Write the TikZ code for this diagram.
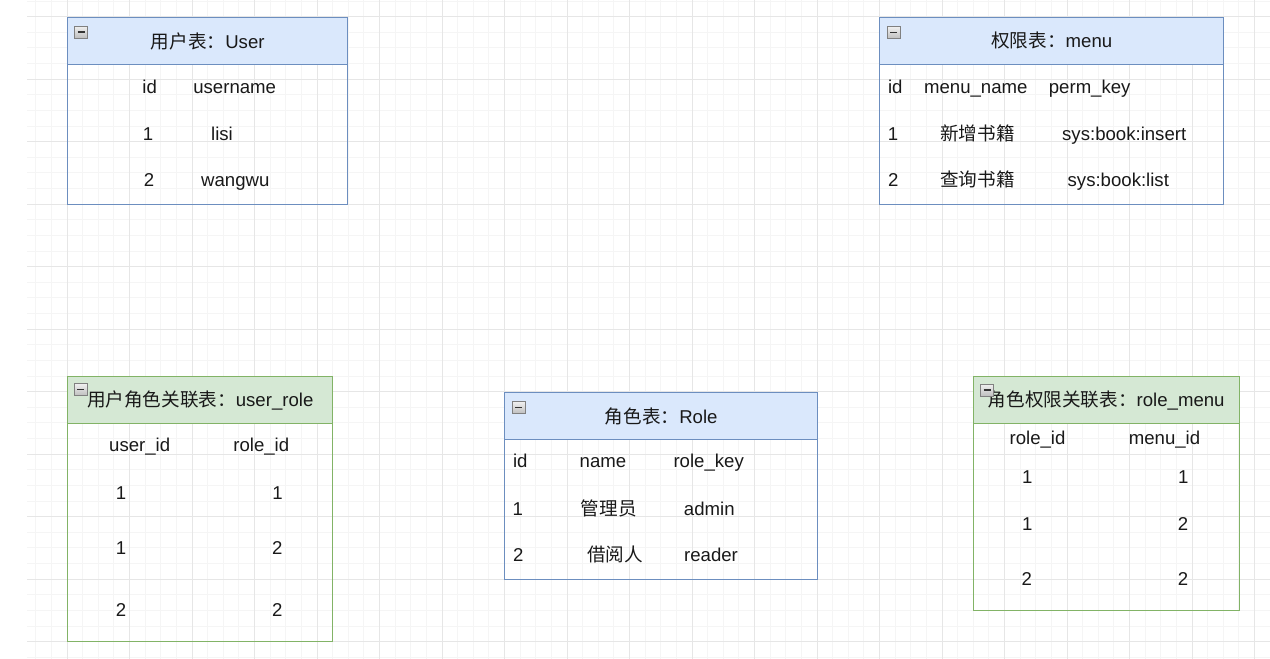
\documentclass[tikz,border=0pt]{standalone}
\usepackage{fontspec}
\setmainfont{Liberation Sans}
\newfontfamily\cjkfont{Noto Sans CJK SC}
\newcommand{\zhtxt}[1]{{\cjkfont #1}}
\definecolor{gminor}{HTML}{F5F5F5}
\definecolor{gmajor}{HTML}{E6E6E6}
\definecolor{bstroke}{HTML}{6C8EBF}
\definecolor{bfill}{HTML}{DAE8FC}
\definecolor{gstroke}{HTML}{82B366}
\definecolor{gfill}{HTML}{D5E8D4}
\begin{document}
\begin{tikzpicture}[x=1pt,y=-1pt,
  every node/.style={font=\fontsize{18.6}{22}\selectfont, text=black!90},
  tabhead/.style={line width=1.45pt, anchor=north west, inner sep=0},
  bluehead/.style={tabhead, draw=bstroke, fill=bfill},
  greenhead/.style={tabhead, draw=gstroke, fill=gfill},
  bluebody/.style={tabhead, draw=bstroke},
  greenbody/.style={tabhead, draw=gstroke},
  cell/.style={anchor=base, inner sep=0},
  collapse/.style={draw=black!50, top color=black!6, bottom color=black!25, line width=1pt, minimum width=13pt, minimum height=12pt, inner sep=0,
    path picture={\draw[line width=1.8pt, black!80] ([xshift=3pt]path picture bounding box.west) -- ([xshift=-3pt]path picture bounding box.east);}},
  gridminor/.style={gminor, line width=1pt},
  gridmajor/.style={gmajor, line width=1pt}
]
\useasboundingbox (0,0) rectangle (1270,659);
\fill[white] (0,0) rectangle (1270,659);
% grid
\begin{scope}
\clip (27,0) rectangle (1270,659);
\foreach \i in {0,...,79} \draw[gridminor] (35.75+15.625*\i,0) -- ++(0,659);
\foreach \i in {0,...,42} \draw[gridminor] (27,1.075+15.625*\i) -- (1270,1.075+15.625*\i);
\foreach \i in {0,...,19} \draw[gridmajor] (67+62.5*\i,0) -- ++(0,659);
\foreach \i in {0,...,10} \draw[gridmajor] (27,16.7+62.5*\i) -- (1270,16.7+62.5*\i);
\end{scope}

% ---- User table
\node[bluebody, minimum width=280pt, minimum height=140.5pt] (userbody) at (67,63.5) {};
\node[bluehead, minimum width=280pt, minimum height=46.5pt] (userhead) at (67,17) {\zhtxt{用户表：}User};
\node[collapse] (usericon) at (81,32) {};
\node[cell] (u1a) at (149.7,93.3) {id};
\node[cell] (u1b) at (234.7,93.3) {username};
\node[cell] (u2a) at (148,140) {1};
\node[cell] (u2b) at (222,140) {lisi};
\node[cell] (u3a) at (149,186.7) {2};
\node[cell] (u3b) at (235.3,186.7) {wangwu};

% ---- menu table
\node[bluebody, minimum width=344pt, minimum height=140.5pt] (menubody) at (879,63.5) {};
\node[bluehead, minimum width=344pt, minimum height=46.5pt] (menuhead) at (879,17) {\zhtxt{权限表：}menu};
\node[collapse] (menuicon) at (893.5,32.5) {};
\node[cell] (m1a) at (895.3,93.3) {id};
\node[cell] (m1b) at (975.8,93.3) {menu\_name};
\node[cell] (m1c) at (1089.7,93.3) {perm\_key};
\node[cell] (m2a) at (893,140) {1};
\node[cell] (m2b) at (977.5,140) {\zhtxt{新增书籍}};
\node[cell] (m2c) at (1124.2,140) {sys:book:insert};
\node[cell] (m3a) at (893.3,186.7) {2};
\node[cell] (m3b) at (977.5,186.7) {\zhtxt{查询书籍}};
\node[cell] (m3c) at (1118.3,186.7) {sys:book:list};

% ---- user_role table
\node[greenbody, minimum width=265pt, minimum height=218pt] (urbody) at (67,423) {};
\node[greenhead, minimum width=265pt, minimum height=47pt] (urhead) at (67,376) {\zhtxt{用户角色关联表：}user\_role};
\node[collapse] (uricon) at (80.5,389.5) {};
\node[cell] (ur1a) at (139.7,451.7) {user\_id};
\node[cell] (ur1b) at (261.3,451.7) {role\_id};
\node[cell] (ur2a) at (121,499.3) {1};
\node[cell] (ur2b) at (277.5,499.3) {1};
\node[cell] (ur3a) at (121,554) {1};
\node[cell] (ur3b) at (277.3,554) {2};
\node[cell] (ur4a) at (121,616) {2};
\node[cell] (ur4b) at (277.3,616) {2};

% ---- Role table
\node[bluebody, minimum width=313pt, minimum height=140.5pt] (rolebody) at (504,438.5) {};
\node[bluehead, minimum width=313pt, minimum height=46.5pt] (rolehead) at (504,392) {\zhtxt{角色表：}Role};
\node[collapse] (roleicon) at (518.5,407.5) {};
\node[cell] (r1a) at (520.3,467.7) {id};
\node[cell] (r1b) at (603,467.7) {name};
\node[cell] (r1c) at (708.7,467.7) {role\_key};
\node[cell] (r2a) at (517.8,515) {1};
\node[cell] (r2b) at (608.8,515) {\zhtxt{管理员}};
\node[cell] (r2c) at (709.3,515) {admin};
\node[cell] (r3a) at (518.3,561.7) {2};
\node[cell] (r3b) at (615,561.7) {\zhtxt{借阅人}};
\node[cell] (r3c) at (711,561.7) {reader};

% ---- role_menu table
\node[greenbody, minimum width=266pt, minimum height=187pt] (rmbody) at (972.5,423) {};
\node[greenhead, minimum width=266pt, minimum height=47pt] (rmhead) at (972.5,376) {\zhtxt{角色权限关联表：}role\_menu};
\node[collapse] (rmicon) at (987,390) {};
\node[cell] (rm1a) at (1037.5,444) {role\_id};
\node[cell] (rm1b) at (1164.5,444) {menu\_id};
\node[cell] (rm2a) at (1027.3,483.3) {1};
\node[cell] (rm2b) at (1183.3,483.3) {1};
\node[cell] (rm3a) at (1027.3,530.7) {1};
\node[cell] (rm3b) at (1183,530.7) {2};
\node[cell] (rm4a) at (1026.7,585) {2};
\node[cell] (rm4b) at (1183,585) {2};
\end{tikzpicture}
\end{document}
